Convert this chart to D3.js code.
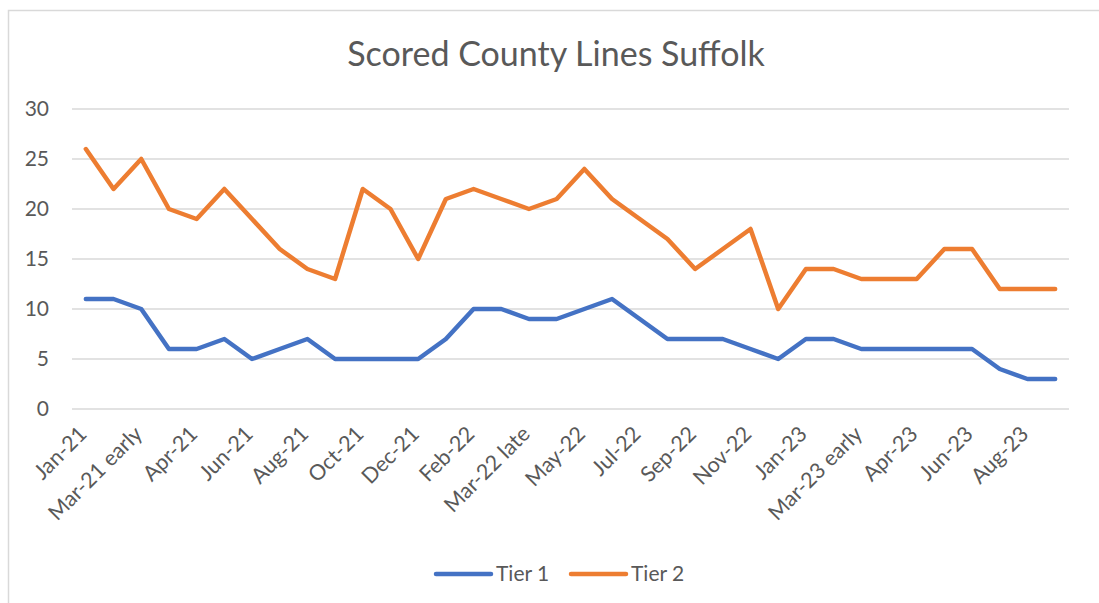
<!DOCTYPE html>
<html>
<head>
<meta charset="utf-8">
<script src="https://cdn.jsdelivr.net/npm/d3@7"></script>
<style>
  body { margin: 0; background: #fff; }
  text { font-family: Lato, "Open Sans", sans-serif; fill: #595959; }
</style>
</head>
<body>
<div id="chart"></div>
<script>
var categories = ["Jan-21", "Feb-21", "Mar-21 early", "Mar-21 late", "Apr-21", "May-21",
  "Jun-21", "Jul-21", "Aug-21", "Sep-21", "Oct-21", "Nov-21", "Dec-21", "Jan-22",
  "Feb-22", "Mar-22 early", "Mar-22 late", "Apr-22", "May-22", "Jun-22", "Jul-22",
  "Aug-22", "Sep-22", "Oct-22", "Nov-22", "Dec-22", "Jan-23", "Feb-23",
  "Mar-23 early", "Mar-23 late", "Apr-23", "May-23", "Jun-23", "Jul-23", "Aug-23", "Sep-23"];

var tier1 = [11, 11, 10, 6, 6, 7, 5, 6, 7, 5, 5, 5, 5, 7, 10, 10, 9, 9, 10, 11, 9, 7,
  7, 7, 6, 5, 7, 7, 6, 6, 6, 6, 6, 4, 3, 3];
var tier2 = [26, 22, 25, 20, 19, 22, 19, 16, 14, 13, 22, 20, 15, 21, 22, 21, 20, 21,
  24, 21, 19, 17, 14, 16, 18, 10, 14, 14, 13, 13, 13, 16, 16, 12, 12, 12];

var yTicks = [0, 5, 10, 15, 20, 25, 30];

var series = [
  {name: "Tier 1", values: tier1, color: "#4472c4"},
  {name: "Tier 2", values: tier2, color: "#ed7d31"}
];

var width = 1099, height = 603,
    plot = {left: 72, right: 1069, top: 109, bottom: 409};

var svg = d3.select("#chart")
  .append("svg")
    .attr("width", width)
    .attr("height", height);

// chart area border (runs off right and bottom edges like the screenshot)
svg.append("rect")
  .attr("x", 8.5).attr("y", 10.5)
  .attr("width", 1200).attr("height", 700)
  .attr("fill", "none")
  .attr("stroke", "#d9d9d9")
  .attr("stroke-width", 1.5);

var x = d3.scaleBand()
  .domain(categories)
  .range([plot.left, plot.right]);

var y = d3.scaleLinear()
  .domain([0, 30])
  .range([plot.bottom, plot.top]);

// gridlines
svg.append("g")
  .selectAll("line")
  .data(yTicks)
.enter().append("line")
  .attr("x1", plot.left).attr("x2", plot.right)
  .attr("y1", function(d){ return y(d); })
  .attr("y2", function(d){ return y(d); })
  .attr("stroke", "#d9d9d9")
  .attr("stroke-width", 1.5);

// y axis labels
var yAxis = svg.append("g")
  .attr("transform", "translate(" + (plot.left - 23) + ",0)")
  .call(d3.axisLeft(y).tickValues(yTicks).tickSize(0).tickPadding(0));
yAxis.select(".domain").remove();
yAxis.selectAll("text")
  .style("font-size", "21px")
  .style("font-family", "Lato, sans-serif")
  .attr("fill", "#595959");

// x axis labels, every second category
var xAxis = svg.append("g")
  .attr("transform", "translate(0," + plot.bottom + ")")
  .call(d3.axisBottom(x)
    .tickValues(categories.filter(function(d, i){ return i % 2 == 0; }))
    .tickSize(0));
xAxis.select(".domain").remove();
xAxis.selectAll("text")
  .style("font-size", "21.5px")
  .style("font-family", "Lato, sans-serif")
  .attr("fill", "#595959")
  .attr("text-anchor", "end")
  .attr("x", 0).attr("y", 0)
  .attr("dy", "0.35em")
  .attr("transform", "translate(-3,21) rotate(-45)");

// lines
var line = d3.line()
  .x(function(d, i){ return x(categories[i]) + x.bandwidth() / 2; })
  .y(function(d){ return y(d); });

svg.selectAll(".series")
  .data(series)
.enter().append("path")
  .attr("class", "series")
  .attr("d", function(d){ return line(d.values); })
  .attr("fill", "none")
  .attr("stroke", function(d){ return d.color; })
  .attr("stroke-width", 4.5)
  .attr("stroke-linejoin", "round")
  .attr("stroke-linecap", "round");

// title
svg.append("text")
  .attr("x", 556).attr("y", 66)
  .attr("text-anchor", "middle")
  .style("font-size", "34px")
  .text("Scored County Lines Suffolk");

// legend
var legend = svg.selectAll(".legend")
  .data(series)
.enter().append("g")
  .attr("class", "legend")
  .attr("transform", function(d, i){ return "translate(" + (436 + i * 135) + ",574)"; });

legend.append("line")
  .attr("x1", 0).attr("x2", 55)
  .attr("stroke", function(d){ return d.color; })
  .attr("stroke-width", 4.5)
  .attr("stroke-linecap", "round");

legend.append("text")
  .attr("x", 60).attr("dy", "0.35em")
  .style("font-size", "21px")
  .text(function(d){ return d.name; });
</script>
</body>
</html>
